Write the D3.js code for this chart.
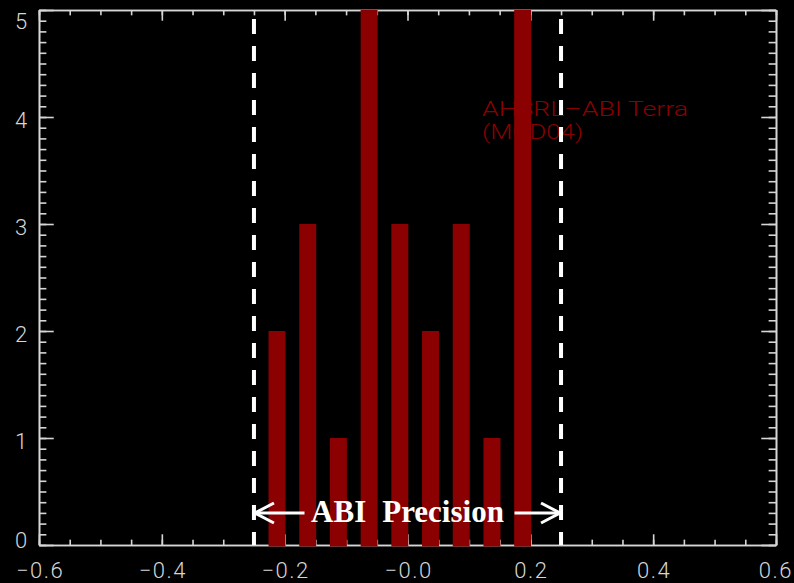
<!DOCTYPE html>
<html>
<head>
<meta charset="utf-8">
<script src="https://cdn.jsdelivr.net/npm/d3@7"></script>
<style>
  html, body { margin: 0; padding: 0; background: #000; }
  svg { display: block; }
</style>
</head>
<body>
<svg id="chart" width="794" height="583"></svg>
<script>
// ---- data ----
const binCenters = [-0.2125, -0.1625, -0.1125, -0.0625, -0.0125, 0.0375, 0.0875, 0.1375, 0.1875];
const counts     = [2, 3, 1, 5, 3, 2, 3, 1, 5];
const xMajorTicks = [-0.6, -0.4, -0.2, 0.0, 0.2, 0.4, 0.6];
const xTickLabels = ["\u22120.6", "\u22120.4", "\u22120.2", "\u22120.0", "0.2", "0.4", "0.6"];
const yMajorTicks = [0, 1, 2, 3, 4, 5];
const yTickLabels = ["0", "1", "2", "3", "4", "5"];
const precisionBounds = [-0.25, 0.25];
const legendLines = ["AHSRL\u2013ABI Terra", "(MOD04)"];
const annotationWords = ["ABI", "Precision"];

// ---- layout ----
const W = 794, H = 583;
const pL = 39, pR = 776, pT = 10, pB = 545;
const axisColor = "#d6d6d6";
const barColor = "#8b0000";

const svg = d3.select("#chart");
svg.append("rect").attr("width", W).attr("height", H).attr("fill", "#000");

const x = d3.scaleLinear().domain([-0.6, 0.6]).range([pL, pR]);
const y = d3.scaleLinear().domain([0, 5]).range([pB, pT]);

const xLen = 0.02 * (pB - pT);   // IDL-style tick length
const yLen = 0.02 * (pR - pL);
const xMinor = d3.range(-0.6, 0.6001, 0.05).map(v => +v.toFixed(3));
const yMinor = d3.range(0, 5.0001, 0.1).map(v => +v.toFixed(2));

// legend text (drawn beneath bars)
const leg = svg.append("g").attr("fill", barColor)
  .attr("font-family", "Roboto, 'DejaVu Sans', sans-serif")
  .attr("font-weight", 300).attr("font-size", 19.5);
leg.append("text").attr("x", 482).attr("y", 116)
  .attr("textLength", 206).attr("lengthAdjust", "spacingAndGlyphs").text(legendLines[0]);
leg.append("text").attr("x", 482).attr("y", 139)
  .attr("textLength", 101).attr("lengthAdjust", "spacingAndGlyphs").text(legendLines[1]);

// axes
function styleAxis(g) {
  g.selectAll("path, line").attr("stroke", axisColor).attr("stroke-width", 1.6);
  g.selectAll("text").remove();
}
function addAxis(axis, tx, ty) {
  svg.append("g").attr("transform", `translate(${tx},${ty})`).call(axis).call(styleAxis);
}
addAxis(d3.axisBottom(x).tickValues(xMinor).tickSizeInner(-xLen / 2).tickSizeOuter(0).tickFormat(""), 0, pB);
addAxis(d3.axisBottom(x).tickValues(xMajorTicks).tickSizeInner(-xLen).tickSizeOuter(0).tickFormat(""), 0, pB);
addAxis(d3.axisTop(x).tickValues(xMinor).tickSizeInner(-xLen / 2).tickSizeOuter(0).tickFormat(""), 0, pT);
addAxis(d3.axisTop(x).tickValues(xMajorTicks).tickSizeInner(-xLen).tickSizeOuter(0).tickFormat(""), 0, pT);
addAxis(d3.axisLeft(y).tickValues(yMinor).tickSizeInner(-yLen / 2).tickSizeOuter(0).tickFormat(""), pL, 0);
addAxis(d3.axisLeft(y).tickValues(yMajorTicks).tickSizeInner(-yLen).tickSizeOuter(0).tickFormat(""), pL, 0);
addAxis(d3.axisRight(y).tickValues(yMinor).tickSizeInner(-yLen / 2).tickSizeOuter(0).tickFormat(""), pR, 0);
addAxis(d3.axisRight(y).tickValues(yMajorTicks).tickSizeInner(-yLen).tickSizeOuter(0).tickFormat(""), pR, 0);

// tick labels
const labelFont = "Roboto, 'DejaVu Sans', sans-serif";
svg.append("g").selectAll("text").data(xMajorTicks).join("text")
  .attr("y", pB + 33)
  .attr("text-anchor", "middle").attr("fill", axisColor)
  .attr("font-family", labelFont).attr("font-weight", 300).attr("font-size", 22)
  .attr("letter-spacing", 1.5)
  .text((d, i) => xTickLabels[i])
  .attr("x", function(d) {
    const w = this.getComputedTextLength();
    return Math.min(x(d) + 1, W - w / 2 - 1);
  });
svg.append("g").selectAll("text").data(yMajorTicks).join("text")
  .attr("x", 21)
  .attr("y", d => Math.min(Math.max(y(d) + 3, pT + 11), pB - 5) + 8)
  .attr("text-anchor", "middle").attr("fill", axisColor)
  .attr("font-family", labelFont).attr("font-weight", 300).attr("font-size", 22)
  .text((d, i) => yTickLabels[i]);

// bars
const halfW = 0.0138;
svg.append("g").selectAll("rect").data(binCenters).join("rect")
  .attr("x", d => x(d - halfW))
  .attr("width", d => x(d + halfW) - x(d - halfW))
  .attr("y", (d, i) => y(counts[i]))
  .attr("height", (d, i) => y(0) - y(counts[i]) + 1.5)
  .attr("fill", barColor);

// precision dashed lines
svg.append("g").selectAll("line").data(precisionBounds).join("line")
  .attr("x1", d => x(d)).attr("x2", d => x(d))
  .attr("y1", y(5)).attr("y2", y(0))
  .attr("stroke", "#fff").attr("stroke-width", 4)
  .attr("stroke-dasharray", "15 12").attr("stroke-dashoffset", 18);

// annotation
const ay = pB - 32;
const ann = svg.append("g");
const t = ann.append("text").attr("x", x(0)).attr("y", ay + 9)
  .attr("text-anchor", "middle").attr("fill", "#fff")
  .attr("font-family", "'Liberation Serif', 'Times New Roman', serif")
  .attr("font-weight", "bold").attr("font-size", 31);
t.append("tspan").text(annotationWords[0]);
t.append("tspan").attr("dx", 16).text(annotationWords[1]);

const arrow = d3.line();
const tailOff = 103;
const aStyle = g => g.attr("fill", "none").attr("stroke", "#fff").attr("stroke-width", 3)
  .attr("stroke-linecap", "butt").attr("stroke-linejoin", "miter");
const xa = x(precisionBounds[0]), xb = x(precisionBounds[1]);
ann.append("path").attr("d", arrow([[x(0) - tailOff, ay], [xa + 1, ay]])).call(aStyle);
ann.append("path").attr("d", arrow([[xa + 20, ay - 10], [xa + 1, ay], [xa + 20, ay + 10]])).call(aStyle);
ann.append("path").attr("d", arrow([[x(0) + tailOff + 4, ay], [xb - 1, ay]])).call(aStyle);
ann.append("path").attr("d", arrow([[xb - 20, ay - 10], [xb - 1, ay], [xb - 20, ay + 10]])).call(aStyle);
</script>
</body>
</html>
